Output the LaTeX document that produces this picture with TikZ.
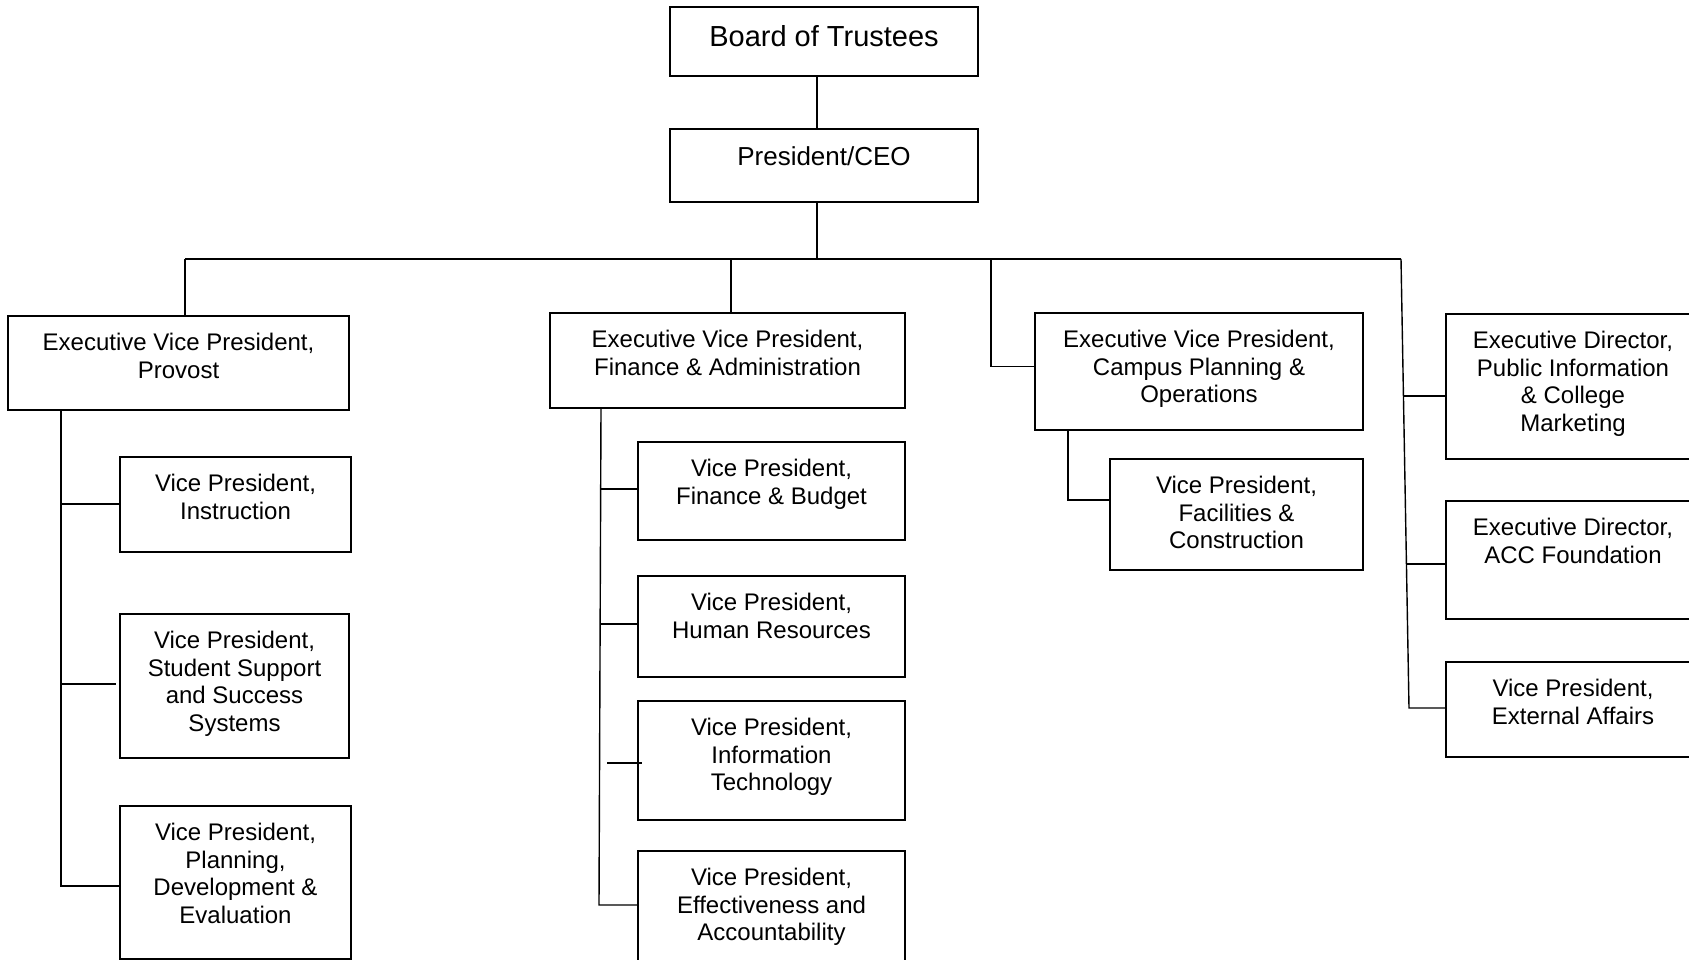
\documentclass[tikz,border=0pt]{standalone}
\usepackage{fontspec}
\setmainfont{Liberation Sans}
\usetikzlibrary{fit,calc}
\newcommand{\tstrut}{\rule{0pt}{18pt}}
\tikzset{
  box/.style={draw=black, line width=1.8pt, rectangle, inner sep=0pt, outer sep=0pt},
  txt/.style={font=\fontsize{24}{27.8}\selectfont, align=center, inner sep=0pt, anchor=north},
  conn/.style={draw=black, line width=1.4pt},
}
\begin{document}
\begin{tikzpicture}[x=1pt,y=-1pt]
\useasboundingbox (0,0) rectangle (1689,960);
\fill[white] (0,0) rectangle (1689,960);
\clip (0,0) rectangle (1689,960);

% boxes
\node[box, fit={(670,7) (978,76)}] (board) {};
\node[box, fit={(670,129) (978,202)}] (pceo) {};
\node[box, fit={(8,316) (349,410)}] (evpProvost) {};
\node[box, fit={(550,313) (905,408)}] (evpFin) {};
\node[box, fit={(1035,313) (1363,430)}] (evpCampus) {};
\node[box, fit={(1446,314) (1700,459)}] (edPub) {};
\node[box, fit={(1446,501) (1700,619)}] (edAcc) {};
\node[box, fit={(1446,662) (1700,757)}] (vpExt) {};
\node[box, fit={(120,457) (351,552)}] (vpInst) {};
\node[box, fit={(120,614) (349,758)}] (vpStu) {};
\node[box, fit={(120,806) (351,959)}] (vpPlan) {};
\node[box, fit={(638,442) (905,540)}] (vpFB) {};
\node[box, fit={(638,576) (905,677)}] (vpHR) {};
\node[box, fit={(638,701) (905,820)}] (vpIT) {};
\node[box, fit={(638,851) (905,968)}] (vpEff) {};
\node[box, fit={(1110,459) (1363,570)}] (vpFac) {};

% texts
\node[txt, font=\fontsize{29}{33}\selectfont] (tBoard) at ($(board.north)+(0,17)$) {\rule{0pt}{22pt}Board of Trustees};
\node[txt, font=\fontsize{26}{30}\selectfont] (tPceo) at ($(pceo.north)+(0,16)$) {\rule{0pt}{20pt}President/CEO};
\node[txt] (tProvost) at ($(evpProvost.north)+(0,16)$) {\tstrut Executive Vice President,\\Provost};
\node[txt] (tFin) at ($(evpFin.north)+(0,16)$) {\tstrut Executive Vice President,\\Finance \& Administration};
\node[txt] (tCampus) at ($(evpCampus.north)+(0,16)$) {\tstrut Executive Vice President,\\Campus Planning \&\\Operations};
\node[txt] (tPub) at ($(edPub.north)+(0,16)$) {\tstrut Executive Director,\\Public Information\\\& College\\Marketing};
\node[txt] (tAcc) at ($(edAcc.north)+(0,16)$) {\tstrut Executive Director,\\ACC Foundation};
\node[txt] (tExt) at ($(vpExt.north)+(0,16)$) {\tstrut Vice President,\\External Affairs};
\node[txt] (tInst) at ($(vpInst.north)+(0,16)$) {\tstrut Vice President,\\Instruction};
\node[txt] (tStu) at ($(vpStu.north)+(0,16)$) {\tstrut Vice President,\\Student Support\\and Success\\Systems};
\node[txt] (tPlan) at ($(vpPlan.north)+(0,16)$) {\tstrut Vice President,\\Planning,\\Development \&\\Evaluation};
\node[txt] (tFB) at ($(vpFB.north)+(0,16)$) {\tstrut Vice President,\\Finance \& Budget};
\node[txt] (tHR) at ($(vpHR.north)+(0,16)$) {\tstrut Vice President,\\Human Resources};
\node[txt] (tIT) at ($(vpIT.north)+(0,16)$) {\tstrut Vice President,\\Information\\Technology};
\node[txt] (tEff) at ($(vpEff.north)+(0,16)$) {\tstrut Vice President,\\Effectiveness and\\Accountability};
\node[txt] (tFac) at ($(vpFac.north)+(0,16)$) {\tstrut Vice President,\\Facilities \&\\Construction};

% coordinates
\coordinate (busM) at (817,259);
\coordinate (busL) at (185,259);
\coordinate (busR) at (1401,259);
\coordinate (busF) at (731,259);
\coordinate (busC) at (991,259);
\coordinate (rBot) at (1409,708);
\coordinate (rP) at (1403,396);
\coordinate (rA) at (1406,564);
\coordinate (pvX) at (61,886);
\coordinate (pvI) at (61,504);
\coordinate (pvS) at (61,684);
\coordinate (fT) at (601,408);
\coordinate (fB) at (599,905);
\coordinate (fFB) at (600.6,489);
\coordinate (fHR) at (600.3,624);
\coordinate (fIT) at (607,763);
\coordinate (cX) at (1068,500);

% connectors
\draw[conn] (board.south -| busM) -- (pceo.north -| busM);
\draw[conn] (pceo.south -| busM) -- (busM);
\draw[conn] (busL) -- (busR);
\draw[conn] (busL) -- (busL |- evpProvost.north);
\draw[conn] (busF) -- (busF |- evpFin.north);
\draw[conn] (busC) |- ([yshift=5pt]evpCampus.west);
\draw[conn] (busR) -- (rBot) -- (rBot -| vpExt.west);
\draw[conn] (rP) -- (rP -| edPub.west);
\draw[conn] (rA) -- (rA -| edAcc.west);

\draw[conn] (evpProvost.south -| pvX) -- (pvX) -- (pvX -| vpPlan.west);
\draw[conn] (pvI) -- (pvI -| vpInst.west);
\draw[conn] (pvS) -- ([xshift=-4pt]pvS -| vpStu.west);

\draw[conn] (fT) -- (fB) -- (fB -| vpEff.west);
\draw[conn] (fFB) -- (fFB -| vpFB.west);
\draw[conn] (fHR) -- (fHR -| vpHR.west);
\draw[conn] (fIT) -- ([xshift=4pt]fIT -| vpIT.west);

\draw[conn] (evpCampus.south -| cX) |- (cX -| vpFac.west);
\end{tikzpicture}
\end{document}
